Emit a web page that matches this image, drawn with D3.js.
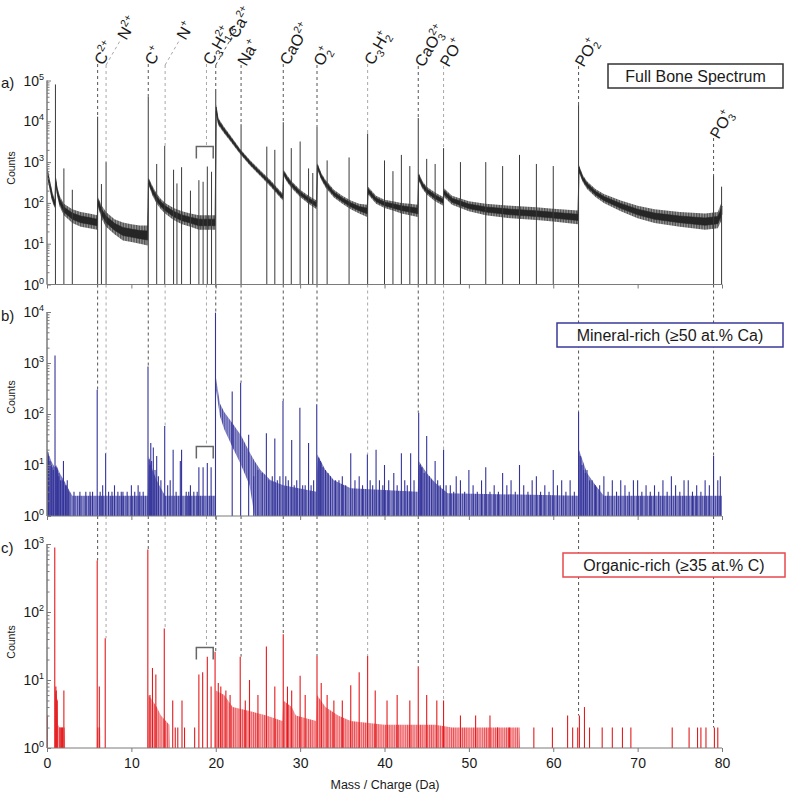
<!DOCTYPE html>
<html><head><meta charset="utf-8">
<script src="https://cdn.jsdelivr.net/npm/d3@7"></script>
<style>body{margin:0;background:#fff} svg text{font-family:"Liberation Sans",Arial,Helvetica,sans-serif;fill:#1a1a1a}</style>
</head><body><svg id="chart" width="787" height="793"></svg>
<script>
// ---------------- DATA ----------------
const xTicks = [0,10,20,30,40,50,60,70,80];
const decadesA = [0,1,2,3,4,5];
const decadesB = [0,1,2,3,4];
const decadesC = [0,1,2,3];

// ion markers
const markerMass   = [6, 7, 12, 14, 18.9, 20, 23, 28, 32, 38, 44, 47, 63, 79];
const markerTone   = ['d','l','d','l','l','d','d','d','d','l','d','l','d','d'];
const markerLeader = [0, 30, 0, 30, 0, 32, 0, 0, 0, 0, 0, 0, 0, 0];
const markerTopY   = [64, 65, 64, 65, 64, 65, 65, 64, 65, 64, 66, 66, 66, 138];
const markerLabels = [
  [['C','n'],['2+','sup']],
  [['N','n'],['2+','sup']],
  [['C','n'],['+','sup']],
  [['N','n'],['+','sup']],
  [['C','n'],['3','sub'],['H','n'],['2+','sup'],['1-3','stk']],
  [['Ca','n'],['2+','sup']],
  [['Na','n'],['+','sup']],
  [['CaO','n'],['2+','sup']],
  [['O','n'],['+','sup'],['2','stk']],
  [['C','n'],['3','sub'],['H','n'],['+','sup'],['2','stk']],
  [['CaO','n'],['2+','sup'],['3','stk']],
  [['PO','n'],['+','sup']],
  [['PO','n'],['+','sup'],['2','stk']],
  [['PO','n'],['+','sup'],['3','stk']]
];
const bracketRange = [17.7, 19.7];
const bracketVals  = [2400, 23, 30];

// Panel a: full bone spectrum - background noise band and peaks
const bgAMass = [0,0.3,0.6,0.85,0.95,1.02,1.2,1.5,2.0,3.0,4.0,5.0,5.95,6.03,6.5,7.0,8.0,9.0,10.0,11.0,11.93,12.03,12.5,13.0,13.5,14.0,15.0,16.0,17.0,18.0,19.0,19.93,20.05,20.3,21.0,21.7,22.9,24.1,25.3,26.5,27.7,27.95,28.05,28.5,29.0,30.0,31.0,31.95,32.05,32.5,33.0,34.0,35.0,36.0,37.0,37.95,38.05,39.0,40.0,41.0,42.0,43.0,43.95,44.05,44.5,45.0,46.0,46.95,47.05,48.0,50.0,52.0,55.0,58.0,60.0,62.93,63.05,63.5,64.0,65.0,66.0,68.0,70.0,72.0,75.0,78.0,79.5,80.0];
const bgALo   = [450,220,110,80,75,300,150,80,50,32,26,24,22,80,40,26,17,12,11,10,9,280,150,95,70,55,38,30,26,22,22,22,15000,8000,5000,3300,1550,800,450,250,130,115,450,310,230,140,95,70,650,370,240,135,95,70,55,45,160,95,75,65,55,50,45,350,220,160,110,85,140,90,62,50,42,38,35,30,550,320,220,140,100,62,42,32,26,22,24,40];
const bgAHi   = [800,400,200,130,120,450,260,150,95,70,60,55,50,140,85,60,40,33,30,28,28,420,260,170,125,100,75,62,55,50,50,50,26000,12000,7200,4600,2100,1100,620,360,190,170,650,460,340,210,150,115,950,540,370,210,150,115,95,90,250,150,120,110,100,95,90,550,340,250,180,140,230,150,110,95,85,78,72,65,850,480,340,220,165,115,85,70,60,55,60,110];
const peakAMass = [1.0,2.0,3.0,6.0,6.45,7.0,12.0,13.0,13.95,15.0,15.4,15.95,17.0,18.0,18.5,19.0,19.5,20.0,23.0,26.05,27.0,28.0,28.95,30.0,31.0,31.5,32.0,33.2,35.8,38.0,40.0,41.0,42.0,43.0,44.0,45.0,46.0,47.0,49.0,52.0,54.0,56.0,58.0,60.0,63.0,79.0,79.95];
const peakAVal  = [80000,700,210,13000,290,1000,40000,900,2500,650,300,750,200,360,330,780,580,62000,8500,2400,2000,9500,2200,3200,700,540,7300,1100,1300,5000,1100,600,1500,800,12000,1200,900,2200,1000,1000,800,1500,900,800,25000,480,250];

// Panel b: mineral-rich
const bgBMass = [0,0.5,0.9,1.1,1.5,2.0,2.5,3.0,11.95,12.05,12.5,13.0,13.5,14.0,19.95,20.02,20.5,21.0,22.0,23.0,24.0,24.6,25.3,26.5,28.0,31.95,32.05,33.0,34.0,36.0,43.95,44.05,45.0,46.0,47.5,62.95,63.05,64.0,65.0,66.0,80.0];
const bgBLo   = [1,1,1,1,1,1,1,1,1,1,1,1,1,1,1,300,90,50,22,10,4,1,1,1,1,1,1,1,1,1,1,1,1,1,1,1,1,1,1,1,1];
const bgBHi   = [20,12,9,10,7,5,3.5,2.5,2.5,15,8,5,3.5,2.5,2.5,520,160,110,65,38,18,12,8,5,4,3,16,8,5,3.5,3,12,7,4.5,2.8,2.5,20,7,4,2.5,2.5];
const peakBMass = [0.95,1.95,0.1,0.2,0.35,0.5,0.6,0.75,1.1,1.2,1.3,1.4,1.6,1.8,2.2,2.4,2.6,3.2,3.9,4.6,5.1,5.4,5.95,6.3,6.6,6.95,7.3,7.7,8.0,8.4,8.8,9.0,9.5,10.0,10.4,10.8,11.0,11.4,11.97,12.1,12.2,12.3,12.4,12.6,12.8,13.0,13.2,13.5,13.95,14.3,14.6,14.95,15.3,15.8,15.95,16.5,16.8,17.0,17.4,17.8,18.0,18.5,19.0,19.45,19.97,21.95,22.95,23.9,24.5,25.0,25.5,26.0,26.3,26.7,27.0,27.3,27.6,27.97,28.3,28.6,29.0,29.3,29.6,29.97,30.3,30.6,31.0,31.3,31.6,31.97,32.2,32.4,32.7,33.0,33.3,33.6,34.2,34.6,35.0,35.4,36.0,36.5,37.0,37.4,37.97,38.3,38.6,39.0,39.4,39.8,40.0,40.5,41.1,41.5,42.0,42.4,42.7,43.1,43.5,44.05,44.2,44.4,44.7,45.0,45.3,45.6,46.0,46.3,46.6,47.0,47.3,47.8,48.2,48.5,49.0,49.5,50.0,50.5,51.0,51.5,52.0,52.5,53.0,53.5,54.0,54.5,55.0,55.5,56.0,56.5,57.0,57.5,58.0,58.5,59.0,59.5,60.0,60.5,61.0,61.5,62.0,62.5,63.0,63.2,63.4,63.6,63.8,64.0,64.3,64.6,65.0,65.5,66.0,66.5,67.0,67.5,68.0,68.5,69.0,69.5,70.0,70.5,71.0,71.5,72.0,72.5,73.0,73.5,74.0,74.5,75.0,75.5,76.0,76.5,77.0,77.5,78.0,78.5,79.0,79.5,79.8];
const peakBVal  = [1400,12,18,15,12,10,9,8,9,8,7,6,5,5,4,5,3,3,3,3,3,3,300,3,4,17,3,3,4,3,3,3,3,4,3,4,3,3,850,13,10,27,12,22,8,15,6,5,58,4,5,20,3,12,20,3,3,4,3,3,9,9,11,9,9700,275,410,39,6,8,7,42,5,6,33,5,6,180,6,5,31,4,5,133,4,4,27,4,5,155,14,12,9,8,7,6,5,5,6,4,17,5,6,4,16,5,4,20,5,4,10,5,7,4,17,5,4,17,5,106,10,9,7,37,6,5,12,5,4,20,4,4,3,6,5,3,8,4,3,5,9,3,4,3,7,4,5,3,10,4,3,5,6,3,4,3,8,4,5,3,5,3,110,15,10,8,7,8,5,5,4,4,6,3,5,3,5,4,3,5,5,3,4,3,4,3,5,3,6,4,3,5,5,3,4,3,5,4,15,5,6];

// Panel c: organic-rich
const bgCMass = [0,0.95,0.97,1.25,1.3,1.5,2.1,2.15,5.9,5.95,6.3,6.35,11.95,12.0,12.5,13.0,13.5,14.5,14.55,19.9,20.0,21.0,22.0,24.0,26.0,27.9,28.0,29.0,29.5,31.9,32.0,33.0,34.5,36.0,40.0,46.0,48.0,56.0,56.05,80.0];
const bgCHi   = [1,1,7,5,2.2,2,2,1,1,2,2,1,1,6,5,4,3,2.2,1,1,7,6,4,3.5,3,2.5,5,4,3,2.5,6,4,3,2.5,2.2,2.2,2,2,1,1];
const peakCMass = [0.05,0.92,1.05,1.1,1.2,1.55,1.7,1.85,2.0,5.95,6.2,6.9,11.95,12.2,12.5,12.9,13.9,14.9,15.2,15.5,16.0,16.3,17.5,18.0,18.45,19.0,19.45,19.92,20.3,20.6,21.2,21.7,22.9,23.5,24.0,25.0,26.0,27.0,28.0,28.5,29.0,30.0,30.6,32.0,32.5,33.2,34.0,35.0,36.0,37.0,38.0,38.9,40.3,41.5,43.0,44.0,45.0,46.2,47.0,49.0,50.8,52.5,53.4,54.8,57.7,59.9,61.7,62.3,62.9,63.1,63.7,64.3,65.8,67.0,68.2,69.2,74.1,76.1,77.1,77.5,78.1,79.1,79.5];
const peakCVal  = [3,890,8,7,5,2,2,2,7,570,8,41,830,6,15,12,57,5,2,2,5,2,2,12,13,22,8,26,9,8,7,6,22,5,10,6,31,8,47,8,7,11.5,6,22.5,9,6,5,5,8.4,13,22.5,7,5,6,5,15.7,6,5,5,3,3,3,2,2,2,2,3,2,2,3,4,2,2,2,2,2,2,2,2,2,2,2,2,2];

const legendTexts = ['Full Bone Spectrum','Mineral-rich (\u226550 at.% Ca)','Organic-rich (\u226535 at.% C)'];

// ---------------- LAYOUT ----------------
const svg = d3.select('#chart');
const xs = d3.scaleLinear().domain([0,80]).range([47,722]);
const panels = [
  {id:'a', top:80.5, bottom:284.5, maxExp:5, decades:decadesA, countsY:168, tagY:88,
   mass:bgAMass, lo:bgALo, hi:bgAHi, pm:peakAMass, pv:peakAVal,
   fill:'#9a9a9a', stripe:'#333', line:'#3a3a3a', border:'#333', legend:[608,64,175,24], sw:1.6, sd:0.7},
  {id:'b', top:312, bottom:516, maxExp:4, decades:decadesB, countsY:397, tagY:321,
   mass:bgBMass, lo:bgBLo, hi:bgBHi, pm:peakBMass, pv:peakBVal,
   fill:'#9a9ad0', stripe:'#36369a', line:'#33339a', border:'#3a3a9a', legend:[557,323,226,24], sw:2.2, sd:0.9},
  {id:'c', top:544, bottom:748, maxExp:3, decades:decadesC, countsY:642, tagY:553,
   mass:bgCMass, lo:null, hi:bgCHi, pm:peakCMass, pv:peakCVal,
   fill:'#f7b0b2', stripe:'#e8363b', line:'#e41a1c', border:'#e8474b', legend:[563,553,222,24], sw:2.2, sd:0.9}
];
panels.forEach(p=>{ p.y = d3.scaleLog().domain([1, Math.pow(10,p.maxExp)]).range([p.bottom, p.top]); });

const defs = svg.append('defs');
panels.forEach(p=>{
  defs.append('clipPath').attr('id','clip-'+p.id).append('rect')
    .attr('x',47).attr('y',p.top-3).attr('width',676).attr('height',p.bottom-p.top+3);
  const pat = defs.append('pattern').attr('id','pat-'+p.id).attr('patternUnits','userSpaceOnUse')
    .attr('width',p.sw).attr('height',10);
  pat.append('rect').attr('width',p.sw).attr('height',10).attr('fill',p.fill);
  pat.append('rect').attr('width',p.sd).attr('height',10).attr('fill',p.stripe).attr('opacity',0.85);
});

// ---------- dashed marker lines ----------
function peakEnd(p, m){
  let best=null;
  p.pm.forEach((pm,i)=>{ if(Math.abs(pm-m)<=0.12 && (best===null || p.pv[i]>best)) best=p.pv[i]; });
  return best;
}
const ang = 60;
const u = [Math.cos(ang*Math.PI/180), -Math.sin(ang*Math.PI/180)];
const markG = svg.append('g');
const labelG = svg.append('g');
markerMass.forEach((m,i)=>{
  const x = xs(m);
  const col = markerTone[i]==='d' ? '#555' : '#a8a8a8';
  let startY = markerTopY[i];
  panels.forEach((p,pi)=>{
    let endV;
    if(Math.abs(m-18.9)<0.01) endV = bracketVals[pi];
    else endV = peakEnd(p,m);
    const endY = endV ? p.y(endV) : p.bottom;
    markG.append('line').attr('x1',x).attr('x2',x).attr('y1',startY).attr('y2',endY)
      .attr('stroke',col).attr('stroke-width',1).attr('stroke-dasharray','3,3');
    startY = p.bottom;
  });
  const L = markerLeader[i];
  const x0 = x, y0 = markerTopY[i];
  const x1 = x0 + u[0]*L, y1 = y0 + u[1]*L;
  if(L>0){
    markG.append('line').attr('x1',x0).attr('y1',y0).attr('x2',x1).attr('y2',y1)
      .attr('stroke',col).attr('stroke-width',1).attr('stroke-dasharray','3,3');
  }
  const g = labelG.append('g').attr('transform',`translate(${x1.toFixed(2)},${y1.toFixed(2)}) rotate(${-ang})`);
  const t = g.append('text').attr('x',1).attr('y',5.5).attr('font-size',16);
  let cur=0, prev=null;
  markerLabels[i].forEach(([s,k])=>{
    const target = k==='sup' ? -7 : (k==='sub'||k==='stk') ? 4 : 0;
    const ts = t.append('tspan').text(s).attr('font-size', k==='n'?16:10.5);
    if(target-cur!==0) ts.attr('dy', target-cur);
    if(k==='stk' && prev) ts.attr('dx', -prev.node().getComputedTextLength());
    cur = target; prev = ts;
  });
});

// ---------- panels ----------
panels.forEach((p,pi)=>{
  const g = svg.append('g');
  const dg = g.append('g').attr('clip-path',`url(#clip-${p.id})`);
  const idx = d3.range(p.mass.length);
  const area = d3.area()
    .x(i=>xs(p.mass[i]))
    .y0(i=>p.y(p.lo ? p.lo[i] : 1))
    .y1(i=>p.y(p.hi[i]));
  dg.append('path').datum(idx).attr('d',area)
    .attr('fill', `url(#pat-${p.id})`).attr('stroke','none');
  if(pi===0){
    // dark core of the noisy trace
    const mid = i=>Math.sqrt(p.lo[i]*p.hi[i]);
    const core = d3.area().x(i=>xs(p.mass[i]))
      .y0(i=>p.y(mid(i)*Math.pow(p.lo[i]/mid(i),0.45)))
      .y1(i=>p.y(mid(i)*Math.pow(p.hi[i]/mid(i),0.45)));
    dg.append('path').datum(idx).attr('d',core).attr('fill','#262626').attr('stroke','#262626').attr('stroke-width',0.6);
  }
  dg.selectAll('line.pk').data(d3.range(p.pm.length)).join('line').attr('class','pk')
    .attr('x1',i=>xs(p.pm[i])).attr('x2',i=>xs(p.pm[i]))
    .attr('y1',p.y(1)).attr('y2',i=>p.y(p.pv[i]))
    .attr('stroke',p.line).attr('stroke-width', pi===0?1:1.1);

  // y axis
  const majors = p.decades.map(e=>Math.pow(10,e));
  const minors = [];
  p.decades.slice(0,-1).forEach(e=>{ for(let k=2;k<10;k++) minors.push(k*Math.pow(10,e)); });
  const ax = g.append('g').attr('transform','translate(47,0)')
    .call(d3.axisLeft(p.y).tickValues(majors).tickSize(-4).tickFormat(''));
  const axm = g.append('g').attr('transform','translate(47,0)')
    .call(d3.axisLeft(p.y).tickValues(minors).tickSize(-2.5).tickFormat(''));
  [ax,axm].forEach(a=>{ a.selectAll('path,line').attr('stroke','#7a7a7a'); a.select('.domain').attr('d',`M0,${p.top}V${p.bottom}`); });
  p.decades.forEach(e=>{
    const t = g.append('text').attr('x',44).attr('y',p.y(Math.pow(10,e))+5).attr('text-anchor','end').attr('font-size',14);
    t.append('tspan').text('10');
    t.append('tspan').text(String(e)).attr('font-size',9).attr('dy',-6);
  });
  const xa = g.append('g').attr('transform',`translate(0,${p.bottom})`)
    .call(d3.axisBottom(xs).tickValues(xTicks).tickSize(4).tickFormat(pi===2? d3.format('d') : ''));
  xa.selectAll('path,line').attr('stroke','#7a7a7a');
  xa.select('.domain').attr('d',`M47,0H722`);
  xa.selectAll('text').attr('font-size',14).attr('fill','#1a1a1a').attr('dy','0.9em')
    .style('font-family','"Liberation Sans",Arial,sans-serif');

  g.append('text').attr('transform',`translate(15,${p.countsY}) rotate(-90)`).attr('text-anchor','middle')
    .attr('font-size',10.5).text('Counts');
  g.append('text').attr('x',1).attr('y',p.tagY).attr('font-size',15).text(p.id+')');

  const by = p.y(bracketVals[pi]);
  g.append('path').attr('d',`M${xs(bracketRange[0])},${by+12}V${by}H${xs(bracketRange[1])}V${by+12}`)
    .attr('fill','none').attr('stroke','#666').attr('stroke-width',1.5);

  const [lx,ly,lw,lh] = p.legend;
  g.append('rect').attr('x',lx).attr('y',ly).attr('width',lw).attr('height',lh)
    .attr('fill','#fff').attr('stroke',p.border).attr('stroke-width',1.5);
  g.append('text').attr('x',lx+lw/2).attr('y',ly+lh/2+5.5).attr('text-anchor','middle')
    .attr('font-size',16).text(legendTexts[pi]);
});

svg.append('text').attr('x',385).attr('y',789).attr('text-anchor','middle').attr('font-size',12.5).text('Mass / Charge (Da)');
</script></body></html>
